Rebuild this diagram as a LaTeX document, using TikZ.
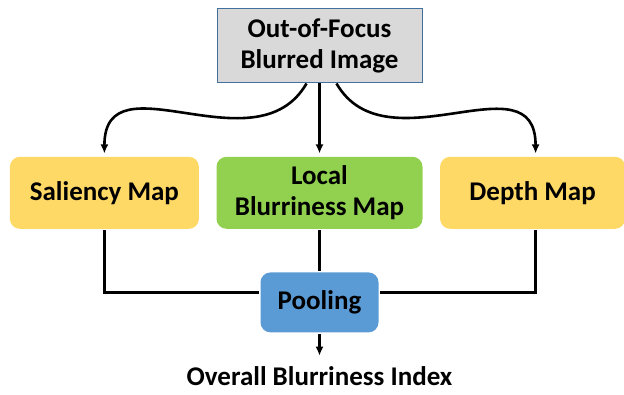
\documentclass[tikz,border=0pt]{standalone}
\usepackage{fontspec}
\setmainfont{Carlito}
\usetikzlibrary{arrows.meta,positioning,calc}

\definecolor{imggray}{HTML}{D9D9D9}
\definecolor{imgedge}{HTML}{41719C}
\definecolor{mapyellow}{HTML}{FFD966}
\definecolor{mapgreen}{HTML}{92D050}
\definecolor{poolblue}{HTML}{5B9BD5}

\begin{document}
\begin{tikzpicture}[>={Latex[length=9pt,width=8pt]}, line width=2.6pt,
    mapbox/.style={rounded corners=10pt, align=center, inner sep=0pt, minimum height=72pt},
    every node/.style={font=\fontsize{27}{31}\selectfont\bfseries}]
    \useasboundingbox (0,0) rectangle (624pt,-395pt);
    \node[draw=imgedge, line width=1pt, fill=imggray, align=center, minimum width=205pt, minimum height=74pt, inner sep=0pt] (img) at (319.5pt,-46pt) {Out-of-Focus\\Blurred Image};
    \node[mapbox, fill=mapgreen, minimum width=206pt, below=72pt of img] (local) {Local\\Blurriness Map};
    \node[mapbox, fill=mapyellow, minimum width=189pt, left=15pt of local] (sal) {Saliency Map};
    \node[mapbox, fill=mapyellow, minimum width=185pt, right=15pt of local] (depth) {Depth Map};
    \node[mapbox, fill=poolblue, minimum width=118pt, minimum height=60pt, below=41pt of local] (pool) {Pooling};
    \node[below=32pt of pool, inner sep=0pt] (index) {Overall Blurriness Index};
    % from the blurred image to the three maps
    \draw[->, shorten >=2pt] ([xshift=-13pt]img.south) to[out=-120, in=90, looseness=1.2] (sal.north);
    \draw[->, shorten >=2pt] (img.south) -- (local.north);
    \draw[->, shorten >=2pt] ([xshift=17pt]img.south) to[out=-60, in=90, looseness=1.2] ([xshift=3pt]depth.north);
    % maps into pooling
    \draw (sal.south) |- ([yshift=10pt]pool.west);
    \draw ([xshift=3pt]depth.south) |- ([yshift=10pt]pool.east);
    \draw (local.south) -- (pool.north);
    \draw[->, shorten >=10pt] (pool.south) -- (index.north);
\end{tikzpicture}
\end{document}
